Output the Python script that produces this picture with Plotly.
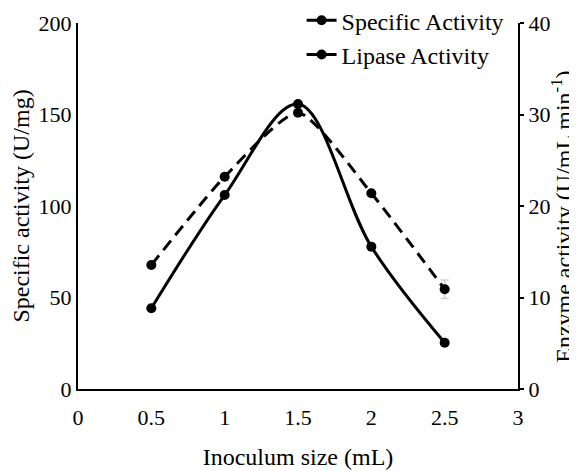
import plotly.graph_objects as go

inoculum = [0.5, 1, 1.5, 2, 2.5]
specific_activity = [44.1, 106, 155.7, 77.8, 25.3]
lipase_activity = [13.55, 23.2, 30.2, 21.4, 10.9]
lipase_error = [0, 0, 0, 0, 1.0]

FONT = "Liberation Serif, Times New Roman, serif"

fig = go.Figure()
fig.add_trace(go.Scatter(
    x=inoculum, y=specific_activity, name="Specific Activity",
    mode="lines+markers", line=dict(color="black", width=3, shape="spline", smoothing=1),
    marker=dict(color="black", size=10), yaxis="y"))
fig.add_trace(go.Scatter(
    x=inoculum, y=lipase_activity, name="Lipase Activity",
    mode="lines+markers", line=dict(color="black", width=3, dash="12px,7px", shape="spline", smoothing=0.6),
    marker=dict(color="black", size=10), yaxis="y2",
    error_y=dict(type="data", array=lipase_error, visible=True, color="#d0d0d0",
                 thickness=1.5, width=4)))

# page body has an 8px margin, so the figure is offset by 8px
fig.update_layout(
    width=569, height=463,
    margin=dict(l=70, r=59, t=15, b=82, autoexpand=False),
    paper_bgcolor="white", plot_bgcolor="white",
    font=dict(family=FONT, size=22, color="black"),
    showlegend=True,
    legend=dict(x=0.9786, y=1.068, xanchor="right", yanchor="top",
                bgcolor="rgba(0,0,0,0)", font=dict(size=24), itemwidth=30,
                tracegroupgap=0),
    xaxis=dict(range=[0, 3], tickvals=[0, 0.5, 1, 1.5, 2, 2.5, 3],
               ticktext=["0", "0.5", "1", "1.5", "2", "2.5", "3"],
               showline=True, linecolor="black", linewidth=2, showgrid=False,
               zeroline=False, ticks="", automargin=True, ticklabelstandoff=8,
               title=dict(text="Inoculum size (mL)", font=dict(size=24), standoff=19)),
    yaxis=dict(range=[0, 200], tickvals=[0, 50, 100, 150, 200],
               showline=True, linecolor="black", linewidth=2, showgrid=False,
               zeroline=False, ticks="", automargin=True,
               title=dict(text="Specific activity (U/mg)", font=dict(size=24), standoff=4)),
    yaxis2=dict(range=[0, 40], tickvals=[0, 10, 20, 30, 40], overlaying="y", side="right",
                showline=True, linecolor="black", linewidth=2, showgrid=False,
                zeroline=False, ticks="outside", ticklen=4, tickwidth=1.5, tickcolor="black",
                automargin=False),
    annotations=[dict(text="Enzyme activity (U/mL min<sup>-1</sup>)", xref="paper", yref="paper",
                      x=1.0995, y=0.47, xanchor="center", yanchor="middle", textangle=-90,
                      showarrow=False, font=dict(size=24))],
)

fig.write_html("out.html")
